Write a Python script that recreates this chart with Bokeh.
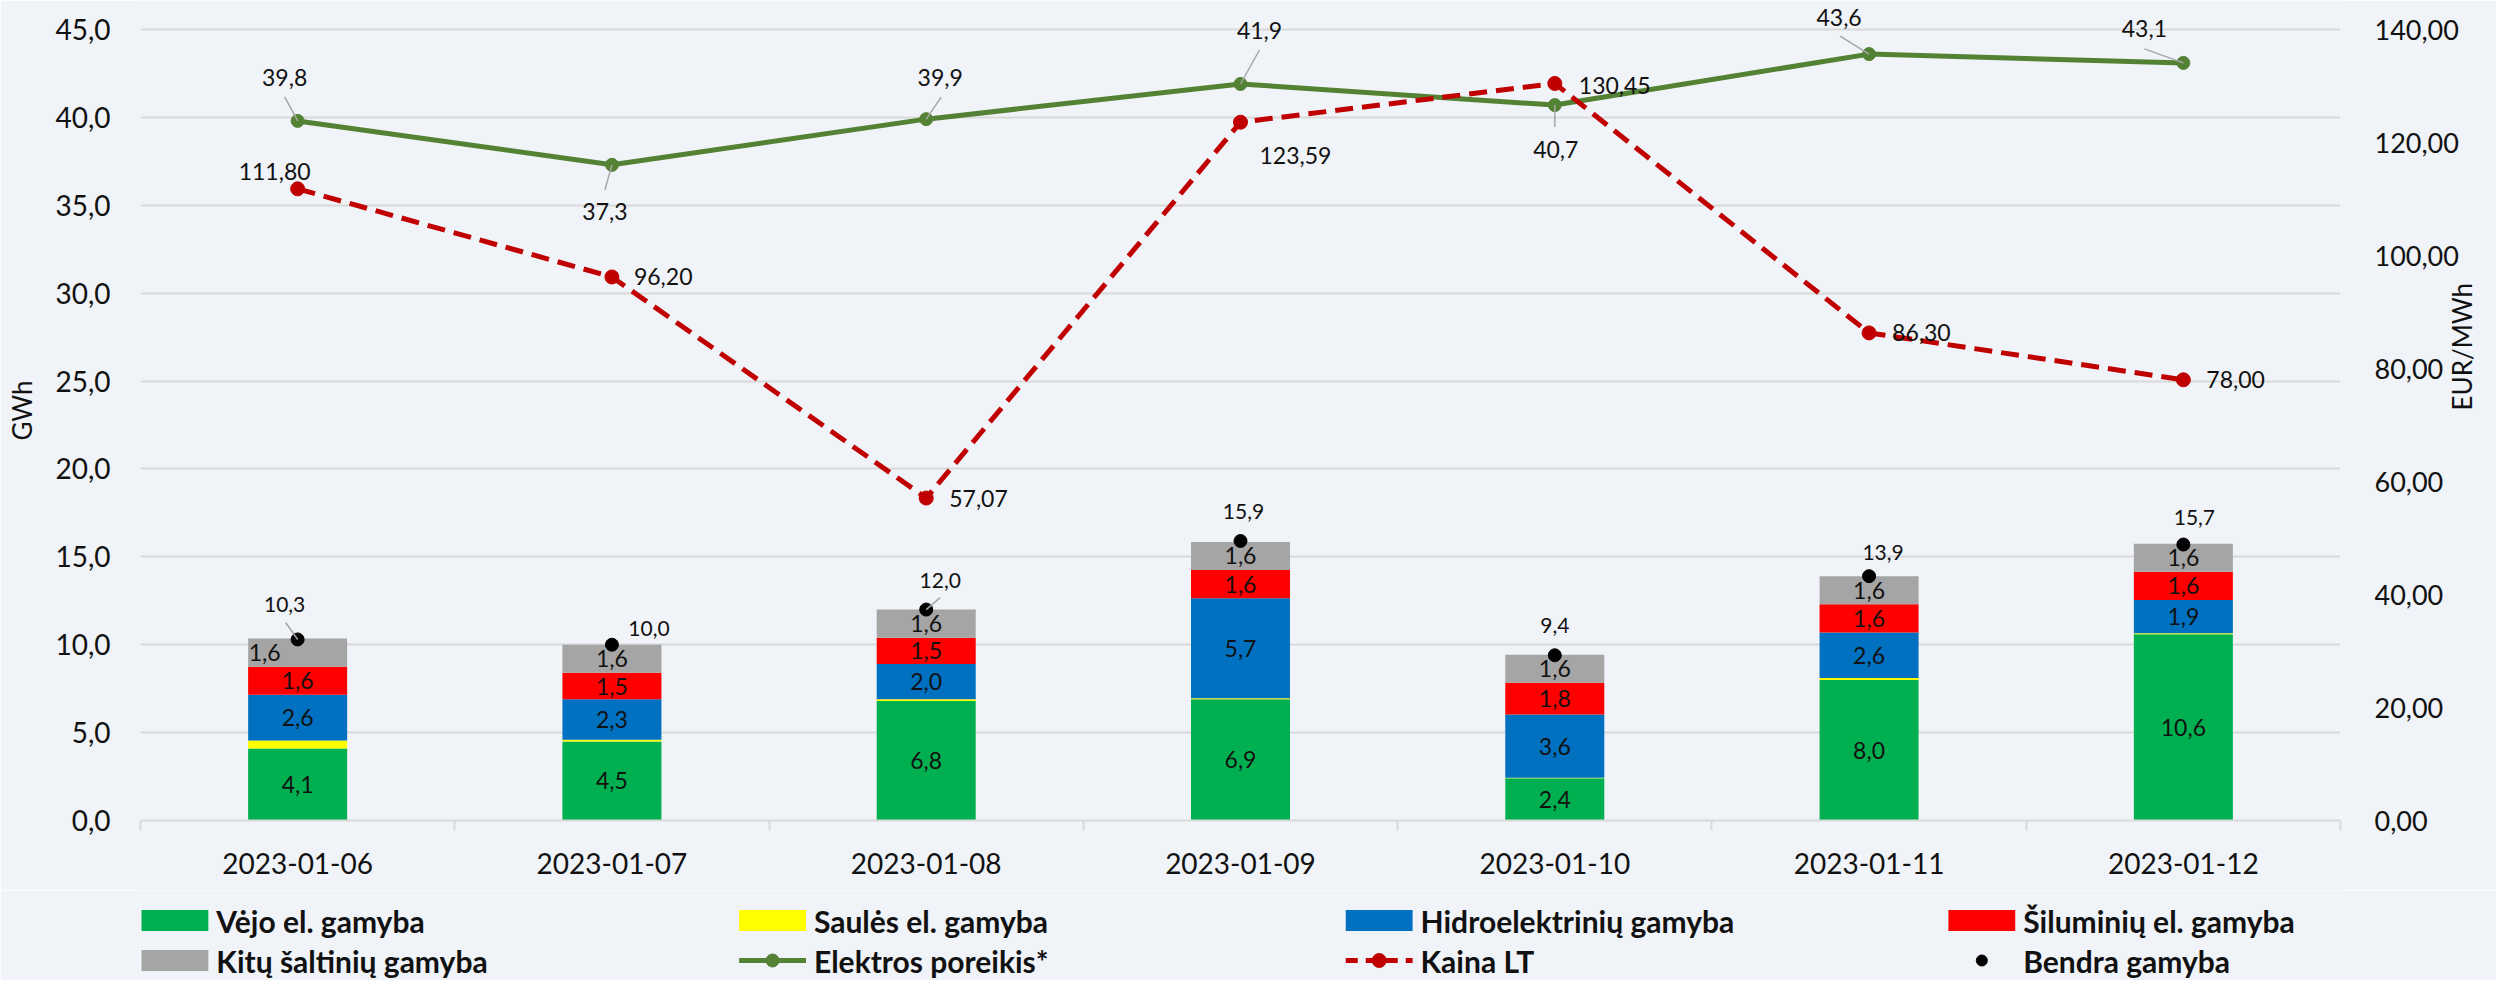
import math
from bokeh.plotting import figure
from bokeh.layouts import column
from bokeh.models import Range1d, LinearAxis, FixedTicker, ColumnDataSource
from bokeh.embed import file_html
from bokeh.resources import INLINE
from bokeh.core.properties import value

# ---------------- data ----------------
dates = ["2023-01-06", "2023-01-07", "2023-01-08", "2023-01-09",
         "2023-01-10", "2023-01-11", "2023-01-12"]
wind = [4.1, 4.5, 6.8, 6.9, 2.4, 8.0, 10.6]
solar = [0.45, 0.1, 0.1, 0.05, 0.03, 0.1, 0.05]
hydro = [2.6, 2.3, 2.0, 5.7, 3.6, 2.6, 1.9]
thermal = [1.6, 1.5, 1.5, 1.6, 1.8, 1.6, 1.6]
other = [1.6, 1.6, 1.6, 1.6, 1.6, 1.6, 1.6]
total = [10.3, 10.0, 12.0, 15.9, 9.4, 13.9, 15.7]
demand = [39.8, 37.3, 39.9, 41.9, 40.7, 43.6, 43.1]
price = [111.80, 96.20, 57.07, 123.59, 130.45, 86.30, 78.00]
gwh_ticks = [0, 5, 10, 15, 20, 25, 30, 35, 40, 45]
eur_ticks = [0, 20, 40, 60, 80, 100, 120, 140]

series_names = ["Vėjo el. gamyba", "Saulės el. gamyba", "Hidroelektrinių gamyba",
                "Šiluminių el. gamyba", "Kitų  šaltinių gamyba"]
line_names = ["Elektros poreikis*", "Kaina LT", "Bendra gamyba"]

# ---------------- style ----------------
BG = "#F0F3F7"
GRID = "#D9D9D9"
TXT = "#111111"
FONT = "Lato"
bar_colors = ["#00B050", "#FFFF00", "#0070C0", "#FF0000", "#A5A5A5"]
GREEN = "#548235"
RED = "#C00000"

W = 2496
H_MAIN, H_LEG = 890, 90
BL, BR, BB = 140, 151, 70
PLOT_TOP = 29                       # pixel row of the 45 / 140 gridline
FW = W - BL - BR
FH = H_MAIN - BB                    # frame reaches canvas top
AREA_H = FH - PLOT_TOP              # pixel height of 0..45
n = len(dates)
xs = list(range(n))
PX_X = n / FW
PX_Y = 45.0 / AREA_H

p = figure(width=W, height=H_MAIN, x_range=Range1d(-0.5, n - 0.5),
           y_range=Range1d(0, 45.0 * FH / AREA_H),
           output_backend="svg", toolbar_location=None,
           background_fill_color=BG, border_fill_color=BG,
           min_border_left=BL, min_border_right=BR, min_border_top=0, min_border_bottom=BB)
p.outline_line_color = None
p.extra_y_ranges = {"price": Range1d(0, 140.0 * FH / AREA_H)}

def fmt1(t):
    return f"{t:.1f}".replace(".", ",")

def fmt2(t):
    return f"{t:.2f}".replace(".", ",")

ya = p.yaxis[0]
ya.ticker = FixedTicker(ticks=gwh_ticks)
ya.major_label_overrides = {t: fmt1(t) for t in gwh_ticks}
ya.axis_label = "GWh"
ya.axis_line_color = None
ya.major_tick_line_color = None
ya.minor_tick_line_color = None
ya.major_tick_out = 0
ya.major_label_standoff = 30
ya.axis_label_standoff = 14

ra = LinearAxis(y_range_name="price", ticker=FixedTicker(ticks=eur_ticks))
ra.major_label_overrides = {t: fmt2(t) for t in eur_ticks}
ra.axis_label = "EUR/MWh"
ra.axis_line_color = None
ra.major_tick_line_color = None
ra.minor_tick_line_color = None
ra.major_tick_out = 0
ra.major_label_standoff = 34
ra.axis_label_standoff = 0
try:
    ra.axis_label_orientation = math.pi / 2
except Exception:
    pass
p.add_layout(ra, "right")

xa = p.xaxis[0]
xa.ticker = FixedTicker(ticks=xs, minor_ticks=[i - 0.5 for i in range(n + 1)])
xa.major_label_overrides = {i: d for i, d in enumerate(dates)}
xa.axis_line_color = GRID
xa.axis_line_width = 2
xa.major_tick_line_color = None
xa.major_tick_out = 0
xa.major_tick_in = 0
xa.minor_tick_line_color = GRID
xa.minor_tick_line_width = 2
xa.minor_tick_out = 10
xa.minor_tick_in = 0
xa.major_label_standoff = 22

for ax in (ya, ra, xa):
    ax.major_label_text_font = FONT
    ax.major_label_text_font_size = "28px"
    ax.major_label_text_color = TXT
    ax.axis_label_text_font = FONT
    ax.axis_label_text_font_size = "26px"
    ax.axis_label_text_font_style = "normal"
    ax.axis_label_text_color = TXT
ra.major_label_text_font_size = "27px"

p.xgrid.grid_line_color = None
p.ygrid.grid_line_color = GRID
p.ygrid.grid_line_width = 2

# ---------------- bars ----------------
keys = ["wind", "solar", "hydro", "thermal", "other"]
src = ColumnDataSource(dict(x=xs, wind=wind, solar=solar, hydro=hydro,
                            thermal=thermal, other=other))
bars = p.vbar_stack(keys, x="x", width=0.315, color=bar_colors, line_color=None, source=src)

lx, ly, lt, ldx = [], [], [], []
vals = [wind, solar, hydro, thermal, other]
for i in range(n):
    bottom = 0.0
    for k, arr in enumerate(vals):
        v = arr[i]
        if k != 1:
            lx.append(xs[i])
            ly.append(bottom + v / 2)
            lt.append(fmt1(v))
            ldx.append(-33 if (k == 4 and i == 0) else 0)
        bottom += v
seg_src = ColumnDataSource(dict(x=lx, y=ly, t=lt, dx=ldx))
p.text(x="x", y="y", text="t", x_offset="dx", source=seg_src,
       text_align="center", text_baseline="middle",
       text_font=value(FONT), text_font_size=value("23px"), text_color=TXT)

# ---------------- lines ----------------
p.line(xs, demand, line_color=GREEN, line_width=5)
p.scatter(xs, demand, size=13, fill_color=GREEN, line_color=GREEN)
p.line(xs, price, y_range_name="price", line_color=RED, line_width=5, line_dash="18 9")
p.scatter(xs, price, y_range_name="price", size=14, fill_color=RED, line_color=RED)
p.scatter(xs, total, size=13, fill_color="black", line_color="black")

LEAD = "#A6A6A6"
dem_lead = {0: (-13, -24), 1: (-7, 25), 2: (15, -22), 3: (19, -34),
            4: (0, 22), 5: (-29, -18), 6: (-39, -14)}
tot_lead = {0: (-12, -17), 2: (14, -12)}
x0, y0, x1, y1 = [], [], [], []
for i, (ex, ey) in dem_lead.items():
    x0.append(xs[i]); y0.append(demand[i])
    x1.append(xs[i] + ex * PX_X); y1.append(demand[i] - ey * PX_Y)
for i, (ex, ey) in tot_lead.items():
    x0.append(xs[i]); y0.append(total[i])
    x1.append(xs[i] + ex * PX_X); y1.append(total[i] - ey * PX_Y)
p.segment(x0=x0, y0=y0, x1=x1, y1=y1, line_color=LEAD, line_width=1.5)

dem_off = [(-13, -43), (-7, 47), (14, -42), (19, -53), (1, 44), (-30, -37), (-39, -34)]
p.text(x=xs, y=demand, text=[fmt1(v) for v in demand],
       x_offset=[o[0] for o in dem_off], y_offset=[o[1] for o in dem_off],
       text_align="center", text_baseline="middle",
       text_font=value(FONT), text_font_size=value("23px"), text_color=TXT)

pr_off = [(-59, -17), (22, 0), (23, 0), (19, 33), (24, 2), (23, 0), (23, 0)]
p.text(x=xs, y=price, text=[fmt2(v) for v in price], y_range_name="price",
       x_offset=[o[0] for o in pr_off], y_offset=[o[1] for o in pr_off],
       text_align="left", text_baseline="middle",
       text_font=value(FONT), text_font_size=value("23px"), text_color=TXT)

tot_off = [(-13, -35), (37, -16), (14, -29), (3, -30), (0, -30), (14, -24), (11, -27)]
p.text(x=xs, y=total, text=[fmt1(v) for v in total],
       x_offset=[o[0] for o in tot_off], y_offset=[o[1] for o in tot_off],
       text_align="center", text_baseline="middle",
       text_font=value(FONT), text_font_size=value("21px"), text_color=TXT)

# ---------------- legend strip (pixel coordinates, frame aligned with chart) ----------------
lg = figure(width=W, height=H_LEG, x_range=Range1d(BL, W - BR),
            y_range=Range1d(H_MAIN + H_LEG, H_MAIN),
            output_backend="svg", toolbar_location=None,
            x_axis_type=None, y_axis_type=None,
            background_fill_color=BG, border_fill_color=BG,
            min_border_left=BL, min_border_right=BR, min_border_top=0, min_border_bottom=0)
lg.outline_line_color = None
lg.grid.grid_line_color = None

col_x = [141, 740, 1348, 1952]
row_y = [920, 960]
SW, SH, GAP = 67, 21, 8
sw_x, sw_y, sw_c = [], [], []
for k in range(5):
    r, c = divmod(k, 4)
    sw_x.append(col_x[c] + SW / 2); sw_y.append(row_y[r]); sw_c.append(bar_colors[k])
lg.rect(x=sw_x, y=sw_y, width=SW, height=SH, fill_color=sw_c, line_color=None)
lg.line([col_x[1], col_x[1] + SW], [row_y[1], row_y[1]], line_color=GREEN, line_width=5)
lg.scatter([col_x[1] + SW / 2], [row_y[1]], size=13, fill_color=GREEN, line_color=GREEN)
lg.line([col_x[2], col_x[2] + SW], [row_y[1], row_y[1]], line_color=RED, line_width=5,
        line_dash="12 8")
lg.scatter([col_x[2] + SW / 2], [row_y[1]], size=14, fill_color=RED, line_color=RED)
lg.scatter([col_x[3] + SW / 2], [row_y[1]], size=11, fill_color="black", line_color="black")

labels = series_names + line_names
tx = [col_x[k % 4] + SW + GAP for k in range(8)]
ty = [row_y[k // 4] for k in range(8)]
lg.text(x=tx, y=ty, text=labels, text_align="left", text_baseline="middle",
        text_font=value(FONT), text_font_style="bold", text_font_size=value("30px"),
        text_color=TXT)

layout = column(p, lg, spacing=0)
open("out.html", "w").write(file_html(layout, INLINE))
